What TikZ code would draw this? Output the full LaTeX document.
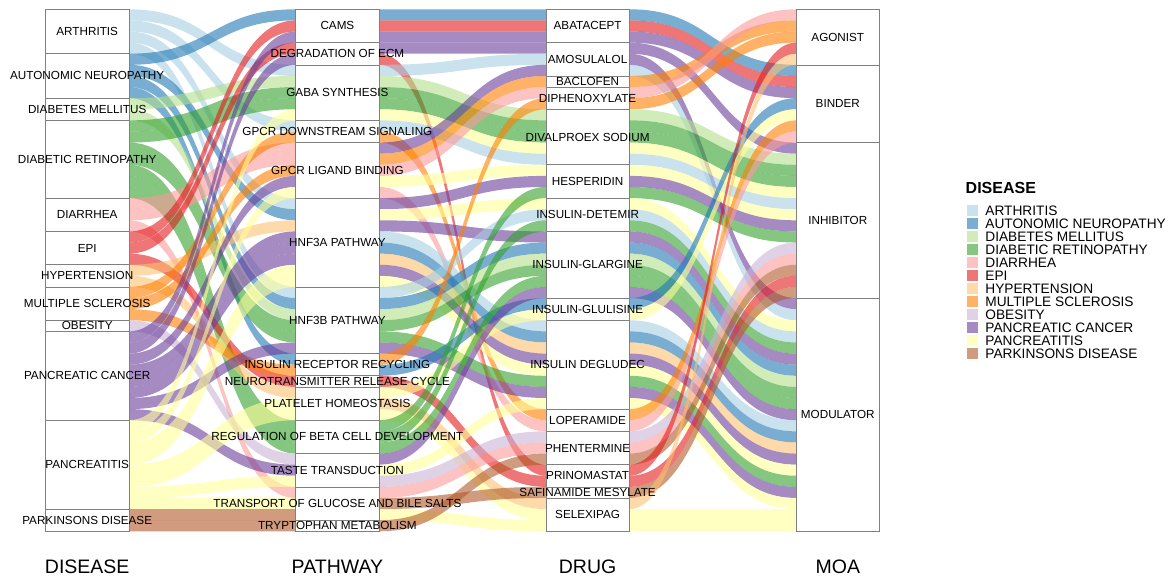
\documentclass[tikz,border=0pt]{standalone}
\usepackage{fontspec}
\setmainfont{Liberation Sans}
\usetikzlibrary{positioning}
\definecolor{arth}{HTML}{A6CEE3}
\definecolor{auton}{HTML}{1F78B4}
\definecolor{dm}{HTML}{B2DF8A}
\definecolor{dr}{HTML}{33A02C}
\definecolor{diar}{HTML}{FB9A99}
\definecolor{epi}{HTML}{E31A1C}
\definecolor{hyp}{HTML}{FDBF6F}
\definecolor{ms}{HTML}{FF7F00}
\definecolor{obes}{HTML}{CAB2D6}
\definecolor{pc}{HTML}{6A3D9A}
\definecolor{panc}{HTML}{FFFF99}
\definecolor{park}{HTML}{B15928}

\begin{document}
\begin{tikzpicture}[x=1pt,y=-1pt,
    ribbon/.style={fill opacity=0.6},
    stratum/.style={draw=gray,line width=0.6pt,fill=white,inner sep=0pt,minimum width=83.4pt},
    lbl/.style={inner sep=0pt,font=\fontsize{11.7}{13}\selectfont},
    axtitle/.style={inner sep=0pt,font=\fontsize{19.5}{22}\selectfont},
    swatch/.style={inner sep=0pt,minimum size=11pt,fill opacity=0.6},
    legtxt/.style={inner sep=0pt,font=\fontsize{13.7}{15}\selectfont}]
      \useasboundingbox (0,0) rectangle (1171,577);
      % Flöden: k = 0 (DISEASE-PATHWAY), 1 (PATHWAY-DRUG), 2 (DRUG-MOA)
      \foreach \k/\a/\b/\c in {
        0/0/5/arth, 0/1/10/arth, 0/2/17/arth, 0/3/25/arth,
        0/4/0/auton, 0/5/18/auton, 0/6/26/auton, 0/7/31/auton,
        0/8/6/dm, 0/9/27/dm,
        0/10/7/dr, 0/11/8/dr, 0/12/28/dr, 0/13/29/dr, 0/14/37/dr, 0/15/38/dr, 0/16/39/dr,
        0/17/12/diar, 0/18/13/diar, 0/19/43/diar,
        0/20/1/epi, 0/21/3/epi, 0/22/33/epi,
        0/23/19/hyp, 0/24/34/hyp,
        0/25/11/ms, 0/26/14/ms, 0/27/32/ms,
        0/28/40/obes,
        0/29/2/pc, 0/30/4/pc, 0/31/15/pc, 0/32/20/pc, 0/33/21/pc, 0/34/22/pc, 0/35/30/pc, 0/36/41/pc,
        0/37/9/panc, 0/38/16/panc, 0/39/23/panc, 0/40/24/panc, 0/41/35/panc, 0/42/36/panc, 0/43/42/panc, 0/44/44/panc,
        0/45/45/park, 0/46/46/park,
        1/0/0/auton, 1/1/1/epi, 1/2/2/pc, 1/3/3/pc, 1/4/41/epi, 1/5/4/arth, 1/6/9/dm, 1/7/10/dr,
        1/8/11/dr, 1/9/12/panc, 1/10/13/arth, 1/11/36/ms, 1/12/5/pc, 1/13/6/ms, 1/14/7/diar, 1/15/14/panc,
        1/16/37/diar, 1/17/15/pc, 1/18/17/panc, 1/19/20/pc, 1/20/28/arth, 1/21/29/auton, 1/22/30/hyp, 1/23/31/pc,
        1/24/32/panc, 1/25/18/arth, 1/26/21/auton, 1/27/22/dm, 1/28/23/dr, 1/29/33/dr, 1/30/34/pc, 1/31/8/ms,
        1/32/26/auton, 1/33/42/epi, 1/34/27/panc, 1/35/44/hyp, 1/36/45/panc, 1/37/16/dr, 1/38/19/dr, 1/39/24/dr,
        1/40/25/pc, 1/41/35/panc, 1/42/38/obes, 1/43/39/diar, 1/44/43/park, 1/45/46/panc, 1/46/40/park,
        2/0/5/auton, 2/1/6/epi, 2/2/7/pc, 2/3/12/pc, 2/4/26/pc, 2/5/27/arth, 2/6/1/ms, 2/7/0/diar,
        2/8/2/ms, 2/9/13/dm, 2/10/14/dr, 2/11/15/dr, 2/12/16/panc, 2/13/17/arth, 2/14/18/panc, 2/15/19/pc,
        2/16/20/dr, 2/17/28/panc, 2/18/29/arth, 2/19/30/dr, 2/20/31/pc, 2/21/32/auton, 2/22/33/dm, 2/23/34/dr,
        2/24/35/dr, 2/25/36/pc, 2/26/8/auton, 2/27/9/panc, 2/28/37/arth, 2/29/38/auton, 2/30/39/hyp, 2/31/40/pc,
        2/32/41/panc, 2/33/42/dr, 2/34/43/pc, 2/35/44/panc, 2/36/10/ms, 2/37/11/diar, 2/38/21/obes, 2/39/22/diar,
        2/40/23/park, 2/41/3/epi, 2/42/24/epi, 2/43/25/park, 2/44/4/hyp, 2/45/45/panc, 2/46/46/panc} {
        \pgfmathsetmacro\xa{128.9+\k*250.2}
        \pgfmathsetmacro\xb{\xa+166.8}
        \pgfmathsetmacro\xm{\xa+83.4}
        \pgfmathsetmacro\ya{9.3+\a*11.106}
        \pgfmathsetmacro\yb{9.3+\b*11.106}
        \pgfmathsetmacro\yc{\ya+11.106}
        \pgfmathsetmacro\yd{\yb+11.106}
        \fill[ribbon,\c] (\xa,\ya) .. controls (\xm,\ya) and (\xm,\yb) .. (\xb,\yb)
          -- (\xb,\yd) .. controls (\xm,\yd) and (\xm,\yc) .. (\xa,\yc) -- cycle;
      }
      % DISEASE
      \foreach \n/\s/\h/\t in {arthr/0/4/ARTHRITIS, autoneu/4/4/AUTONOMIC NEUROPATHY,
          dmel/8/2/DIABETES MELLITUS, dret/10/7/DIABETIC RETINOPATHY, diarr/17/3/DIARRHEA,
          epil/20/3/EPI, hypt/23/2/HYPERTENSION, mscl/25/3/MULTIPLE SCLEROSIS,
          obesi/28/1/OBESITY, pcan/29/8/PANCREATIC CANCER, pancr/37/8/PANCREATITIS,
          parkd/45/2/PARKINSONS DISEASE} {
        \node[stratum,minimum height=\h*11.106pt] (\n) at (87.2,{9.3+(\s+\h/2)*11.106}) {};
        \node[lbl] (\n-t) at (\n.center) {\t};
      }
      % PATHWAY
      \foreach \n/\s/\h/\t in {cams/0/3/CAMS, degr/3/2/DEGRADATION OF ECM, gaba/5/5/GABA SYNTHESIS,
          gpcrd/10/2/GPCR DOWNSTREAM SIGNALING, gpcrl/12/5/GPCR LIGAND BINDING,
          hnfa/17/8/HNF3A PATHWAY, hnfb/25/6/HNF3B PATHWAY, insr/31/2/INSULIN RECEPTOR RECYCLING,
          neuro/33/1/NEUROTRANSMITTER RELEASE CYCLE, plat/34/3/PLATELET HOMEOSTASIS,
          regb/37/3/REGULATION OF BETA CELL DEVELOPMENT, taste/40/3/TASTE TRANSDUCTION,
          transp/43/3/TRANSPORT OF GLUCOSE AND BILE SALTS, tryp/46/1/TRYPTOPHAN METABOLISM} {
        \node[stratum,minimum height=\h*11.106pt] (\n) at (337.4,{9.3+(\s+\h/2)*11.106}) {};
        \node[lbl] (\n-t) at (\n.center) {\t};
      }
      % DRUG
      \foreach \n/\s/\h/\t in {abat/0/3/ABATACEPT, amos/3/3/AMOSULALOL, bacl/6/1/BACLOFEN,
          diph/7/2/DIPHENOXYLATE, dival/9/5/DIVALPROEX SODIUM, hesp/14/3/HESPERIDIN,
          dete/17/3/INSULIN-DETEMIR, glar/20/6/INSULIN-GLARGINE, glul/26/2/INSULIN-GLULISINE,
          degl/28/8/INSULIN DEGLUDEC, lope/36/2/LOPERAMIDE, phen/38/3/PHENTERMINE,
          prin/41/2/PRINOMASTAT, safi/43/1/SAFINAMIDE MESYLATE, sele/44/3/SELEXIPAG} {
        \node[stratum,minimum height=\h*11.106pt] (\n) at (587.6,{9.3+(\s+\h/2)*11.106}) {};
        \node[lbl] (\n-t) at (\n.center) {\t};
      }
      % MOA
      \foreach \n/\s/\h/\t in {agon/0/5/AGONIST, bind/5/7/BINDER, inhib/12/14/INHIBITOR,
          modu/26/21/MODULATOR} {
        \node[stratum,minimum height=\h*11.106pt] (\n) at (837.8,{9.3+(\s+\h/2)*11.106}) {};
        \node[lbl] (\n-t) at (\n.center) {\t};
      }
      % Axeltitlar
      \node[axtitle] (ax-dis) at (87.2,567) {DISEASE};
      \node[axtitle] (ax-path) at (337.4,567) {PATHWAY};
      \node[axtitle] (ax-drug) at (587.6,567) {DRUG};
      \node[axtitle] (ax-moa) at (837.8,567) {MOA};
      % Legend
      \node[anchor=west,inner sep=0pt,font=\fontsize{16}{18}\bfseries] (leg) at (965.5,188) {DISEASE};
      \foreach \c/\t/\i in {arth/ARTHRITIS/0, auton/AUTONOMIC NEUROPATHY/1, dm/DIABETES MELLITUS/2,
          dr/DIABETIC RETINOPATHY/3, diar/DIARRHEA/4, epi/EPI/5, hyp/HYPERTENSION/6,
          ms/MULTIPLE SCLEROSIS/7, obes/OBESITY/8, pc/PANCREATIC CANCER/9,
          panc/PANCREATITIS/10, park/PARKINSONS DISEASE/11} {
        \node[swatch,fill=\c] (sw-\c) at (972,{211+\i*12.94}) {};
        \node[legtxt,right=7.5pt of sw-\c] (lt-\c) {\t};
      }
    \end{tikzpicture}
\end{document}
